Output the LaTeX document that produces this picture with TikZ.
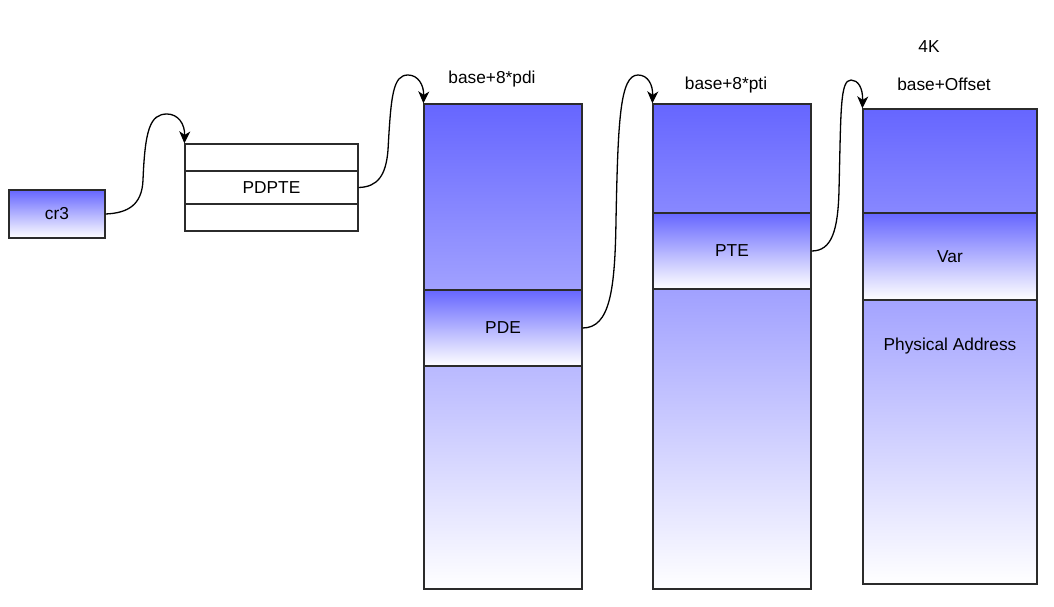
\documentclass[tikz,border=0pt]{standalone}
\usepackage{fontspec}
\setmainfont{Liberation Sans}
\usetikzlibrary{arrows.meta}
\definecolor{bluetop}{HTML}{6666FF}
\definecolor{edge}{HTML}{2B2B2B}
\tikzset{
  box/.style={draw=edge, line width=1.2pt, rectangle, inner sep=0pt, font=\fontsize{17.3}{20}\selectfont},
  grad/.style={box, top color=bluetop, bottom color=white},
  plain/.style={box, fill=white},
  lbl/.style={inner sep=0pt, font=\fontsize{17.3}{20}\selectfont},
  conn/.style={draw=black, line width=1.3pt, -{Stealth[length=12pt,width=11pt,inset=3.5pt]}},
}
\begin{document}
\begin{tikzpicture}[x=1pt,y=-1pt]
\useasboundingbox (0,0) rectangle (1054,607);
% cr3
\node[grad, minimum width=96pt, minimum height=48pt] (cr3) at (57,214) {cr3};
% PDPTE table
\node[plain, minimum width=173pt, minimum height=27pt] (r1) at (271.5,157.5) {};
\node[plain, minimum width=173pt, minimum height=33pt] (pdpte) at (271.5,187.5) {PDPTE};
\node[plain, minimum width=173pt, minimum height=27pt] (r3) at (271.5,217.5) {};
% PD column
\node[grad, minimum width=158pt, minimum height=485pt] (pdcol) at (503,346.5) {};
\node[grad, minimum width=158pt, minimum height=76pt] (pde) at (503,328) {PDE};
\node[lbl] (lpdi) at (492,79) {base+8*pdi};
% PT column
\node[grad, minimum width=158pt, minimum height=485pt] (ptcol) at (732,346.5) {};
\node[grad, minimum width=158pt, minimum height=76pt] (pte) at (732,251) {PTE};
\node[lbl] (lpti) at (726,85) {base+8*pti};
% Page column
\node[grad, minimum width=174pt, minimum height=475pt] (pgcol) at (950,346.5) {};
\node[grad, minimum width=174pt, minimum height=87pt] (var) at (950,256.5) {Var};
\node[lbl] (pa) at (950,346) {Physical Address};
\node[lbl] (l4k) at (929,47) {4K};
\node[lbl] (loff) at (944,84) {base+Offset};
% connectors
\coordinate (m1) at (143,180);
\coordinate (p1) at (167,114);
\draw[conn] (cr3.east) .. controls (128,213) and (142,205) .. (m1)
  .. controls (145,130) and (150,114) .. (p1)
  .. controls (178,114) and (185,124) .. (r1.north west);
\coordinate (m2) at (388,150);
\coordinate (p2) at (408,75);
\draw[conn] (pdpte.east) .. controls (378,187) and (386,175) .. (m2)
  .. controls (391,95) and (393,75) .. (p2)
  .. controls (418,75) and (424,85) .. (pdcol.north west);
\coordinate (m3) at (616,220);
\coordinate (p3) at (638,75);
\draw[conn] (pde.east) .. controls (610,328) and (615,290) .. (m3)
  .. controls (618,120) and (620,75) .. (p3)
  .. controls (648,75) and (653,85) .. (ptcol.north west);
\coordinate (m4) at (839,190);
\coordinate (p4) at (851,80);
\draw[conn] (pte.east) .. controls (832,251) and (838,230) .. (m4)
  .. controls (841,110) and (840,80) .. (p4)
  .. controls (858,80) and (863,88) .. (pgcol.north west);
\end{tikzpicture}
\end{document}
